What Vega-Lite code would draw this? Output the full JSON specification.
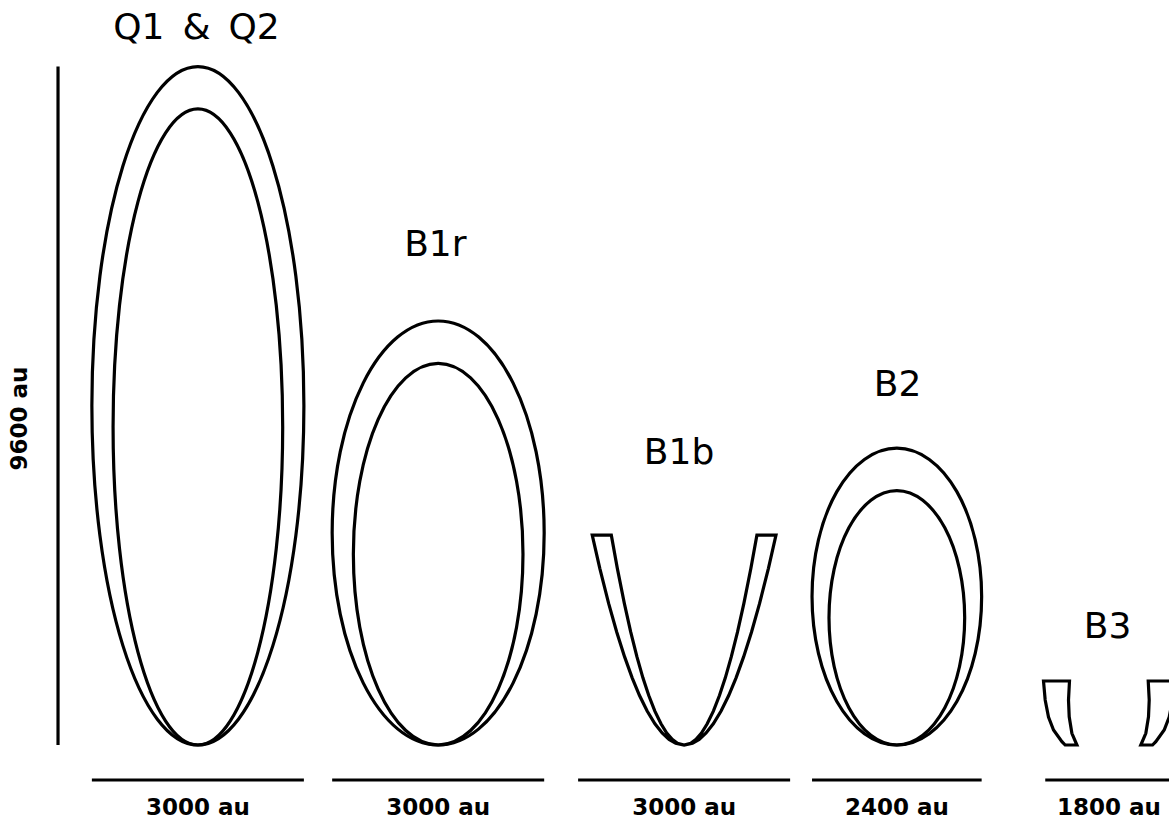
{
  "$schema": "https://vega.github.io/schema/vega-lite/v6.json",
  "width": 1169,
  "height": 825,
  "padding": 0,
  "autosize": {"type": "fit", "contains": "padding"},
  "background": "white",
  "config": {"view": {"stroke": null}},
  "datasets": {
    "ellipses": [
      {"shape": "Q outer", "i": 0, "x": 4300, "y": 4800},
      {"shape": "Q outer", "i": 1, "x": 4186, "y": 6637},
      {"shape": "Q outer", "i": 2, "x": 3861, "y": 8194},
      {"shape": "Q outer", "i": 3, "x": 3374, "y": 9235},
      {"shape": "Q outer", "i": 4, "x": 2800, "y": 9600},
      {"shape": "Q outer", "i": 5, "x": 2226, "y": 9235},
      {"shape": "Q outer", "i": 6, "x": 1739, "y": 8194},
      {"shape": "Q outer", "i": 7, "x": 1414, "y": 6637},
      {"shape": "Q outer", "i": 8, "x": 1300, "y": 4800},
      {"shape": "Q outer", "i": 9, "x": 1414, "y": 2963},
      {"shape": "Q outer", "i": 10, "x": 1739, "y": 1406},
      {"shape": "Q outer", "i": 11, "x": 2226, "y": 365},
      {"shape": "Q outer", "i": 12, "x": 2800, "y": 0},
      {"shape": "Q outer", "i": 13, "x": 3374, "y": 365},
      {"shape": "Q outer", "i": 14, "x": 3861, "y": 1406},
      {"shape": "Q outer", "i": 15, "x": 4186, "y": 2963},
      {"shape": "Q inner", "i": 0, "x": 4000, "y": 4500},
      {"shape": "Q inner", "i": 1, "x": 3909, "y": 6222},
      {"shape": "Q inner", "i": 2, "x": 3649, "y": 7682},
      {"shape": "Q inner", "i": 3, "x": 3259, "y": 8658},
      {"shape": "Q inner", "i": 4, "x": 2800, "y": 9000},
      {"shape": "Q inner", "i": 5, "x": 2341, "y": 8658},
      {"shape": "Q inner", "i": 6, "x": 1951, "y": 7682},
      {"shape": "Q inner", "i": 7, "x": 1691, "y": 6222},
      {"shape": "Q inner", "i": 8, "x": 1600, "y": 4500},
      {"shape": "Q inner", "i": 9, "x": 1691, "y": 2778},
      {"shape": "Q inner", "i": 10, "x": 1951, "y": 1318},
      {"shape": "Q inner", "i": 11, "x": 2341, "y": 342},
      {"shape": "Q inner", "i": 12, "x": 2800, "y": 0},
      {"shape": "Q inner", "i": 13, "x": 3259, "y": 342},
      {"shape": "Q inner", "i": 14, "x": 3649, "y": 1318},
      {"shape": "Q inner", "i": 15, "x": 3909, "y": 2778},
      {"shape": "B1r outer", "i": 0, "x": 7700, "y": 3000},
      {"shape": "B1r outer", "i": 1, "x": 7586, "y": 4148},
      {"shape": "B1r outer", "i": 2, "x": 7261, "y": 5121},
      {"shape": "B1r outer", "i": 3, "x": 6774, "y": 5772},
      {"shape": "B1r outer", "i": 4, "x": 6200, "y": 6000},
      {"shape": "B1r outer", "i": 5, "x": 5626, "y": 5772},
      {"shape": "B1r outer", "i": 6, "x": 5139, "y": 5121},
      {"shape": "B1r outer", "i": 7, "x": 4814, "y": 4148},
      {"shape": "B1r outer", "i": 8, "x": 4700, "y": 3000},
      {"shape": "B1r outer", "i": 9, "x": 4814, "y": 1852},
      {"shape": "B1r outer", "i": 10, "x": 5139, "y": 879},
      {"shape": "B1r outer", "i": 11, "x": 5626, "y": 228},
      {"shape": "B1r outer", "i": 12, "x": 6200, "y": 0},
      {"shape": "B1r outer", "i": 13, "x": 6774, "y": 228},
      {"shape": "B1r outer", "i": 14, "x": 7261, "y": 879},
      {"shape": "B1r outer", "i": 15, "x": 7586, "y": 1852},
      {"shape": "B1r inner", "i": 0, "x": 7400, "y": 2700},
      {"shape": "B1r inner", "i": 1, "x": 7309, "y": 3733},
      {"shape": "B1r inner", "i": 2, "x": 7049, "y": 4609},
      {"shape": "B1r inner", "i": 3, "x": 6659, "y": 5195},
      {"shape": "B1r inner", "i": 4, "x": 6200, "y": 5400},
      {"shape": "B1r inner", "i": 5, "x": 5741, "y": 5195},
      {"shape": "B1r inner", "i": 6, "x": 5351, "y": 4609},
      {"shape": "B1r inner", "i": 7, "x": 5091, "y": 3733},
      {"shape": "B1r inner", "i": 8, "x": 5000, "y": 2700},
      {"shape": "B1r inner", "i": 9, "x": 5091, "y": 1667},
      {"shape": "B1r inner", "i": 10, "x": 5351, "y": 791},
      {"shape": "B1r inner", "i": 11, "x": 5741, "y": 205},
      {"shape": "B1r inner", "i": 12, "x": 6200, "y": 0},
      {"shape": "B1r inner", "i": 13, "x": 6659, "y": 205},
      {"shape": "B1r inner", "i": 14, "x": 7049, "y": 791},
      {"shape": "B1r inner", "i": 15, "x": 7309, "y": 1667},
      {"shape": "B2 outer", "i": 0, "x": 13890, "y": 2100},
      {"shape": "B2 outer", "i": 1, "x": 13799, "y": 2904},
      {"shape": "B2 outer", "i": 2, "x": 13539, "y": 3585},
      {"shape": "B2 outer", "i": 3, "x": 13149, "y": 4040},
      {"shape": "B2 outer", "i": 4, "x": 12690, "y": 4200},
      {"shape": "B2 outer", "i": 5, "x": 12231, "y": 4040},
      {"shape": "B2 outer", "i": 6, "x": 11841, "y": 3585},
      {"shape": "B2 outer", "i": 7, "x": 11581, "y": 2904},
      {"shape": "B2 outer", "i": 8, "x": 11490, "y": 2100},
      {"shape": "B2 outer", "i": 9, "x": 11581, "y": 1296},
      {"shape": "B2 outer", "i": 10, "x": 11841, "y": 615},
      {"shape": "B2 outer", "i": 11, "x": 12231, "y": 160},
      {"shape": "B2 outer", "i": 12, "x": 12690, "y": 0},
      {"shape": "B2 outer", "i": 13, "x": 13149, "y": 160},
      {"shape": "B2 outer", "i": 14, "x": 13539, "y": 615},
      {"shape": "B2 outer", "i": 15, "x": 13799, "y": 1296},
      {"shape": "B2 inner", "i": 0, "x": 13650, "y": 1800},
      {"shape": "B2 inner", "i": 1, "x": 13577, "y": 2489},
      {"shape": "B2 inner", "i": 2, "x": 13369, "y": 3073},
      {"shape": "B2 inner", "i": 3, "x": 13057, "y": 3463},
      {"shape": "B2 inner", "i": 4, "x": 12690, "y": 3600},
      {"shape": "B2 inner", "i": 5, "x": 12323, "y": 3463},
      {"shape": "B2 inner", "i": 6, "x": 12011, "y": 3073},
      {"shape": "B2 inner", "i": 7, "x": 11803, "y": 2489},
      {"shape": "B2 inner", "i": 8, "x": 11730, "y": 1800},
      {"shape": "B2 inner", "i": 9, "x": 11803, "y": 1111},
      {"shape": "B2 inner", "i": 10, "x": 12011, "y": 527},
      {"shape": "B2 inner", "i": 11, "x": 12323, "y": 137},
      {"shape": "B2 inner", "i": 12, "x": 12690, "y": 0},
      {"shape": "B2 inner", "i": 13, "x": 13057, "y": 137},
      {"shape": "B2 inner", "i": 14, "x": 13369, "y": 527},
      {"shape": "B2 inner", "i": 15, "x": 13577, "y": 1111}
    ],
    "outlines": [
      {"shape": "B1b", "i": 0, "x": 8380, "y": 2970},
      {"shape": "B1b", "i": 1, "x": 8487, "y": 2500},
      {"shape": "B1b", "i": 2, "x": 8613, "y": 2000},
      {"shape": "B1b", "i": 3, "x": 8726, "y": 1600},
      {"shape": "B1b", "i": 4, "x": 8837, "y": 1250},
      {"shape": "B1b", "i": 5, "x": 8945, "y": 950},
      {"shape": "B1b", "i": 6, "x": 9049, "y": 700},
      {"shape": "B1b", "i": 7, "x": 9157, "y": 480},
      {"shape": "B1b", "i": 8, "x": 9267, "y": 300},
      {"shape": "B1b", "i": 9, "x": 9369, "y": 170},
      {"shape": "B1b", "i": 10, "x": 9467, "y": 80},
      {"shape": "B1b", "i": 11, "x": 9561, "y": 25},
      {"shape": "B1b", "i": 12, "x": 9680, "y": 0},
      {"shape": "B1b", "i": 13, "x": 9799, "y": 25},
      {"shape": "B1b", "i": 14, "x": 9893, "y": 80},
      {"shape": "B1b", "i": 15, "x": 9991, "y": 170},
      {"shape": "B1b", "i": 16, "x": 10093, "y": 300},
      {"shape": "B1b", "i": 17, "x": 10203, "y": 480},
      {"shape": "B1b", "i": 18, "x": 10311, "y": 700},
      {"shape": "B1b", "i": 19, "x": 10415, "y": 950},
      {"shape": "B1b", "i": 20, "x": 10523, "y": 1250},
      {"shape": "B1b", "i": 21, "x": 10634, "y": 1600},
      {"shape": "B1b", "i": 22, "x": 10747, "y": 2000},
      {"shape": "B1b", "i": 23, "x": 10873, "y": 2500},
      {"shape": "B1b", "i": 24, "x": 10980, "y": 2970},
      {"shape": "B1b", "i": 25, "x": 10710, "y": 2970},
      {"shape": "B1b", "i": 26, "x": 10625, "y": 2500},
      {"shape": "B1b", "i": 27, "x": 10525, "y": 2000},
      {"shape": "B1b", "i": 28, "x": 10436, "y": 1600},
      {"shape": "B1b", "i": 29, "x": 10348, "y": 1250},
      {"shape": "B1b", "i": 30, "x": 10263, "y": 950},
      {"shape": "B1b", "i": 31, "x": 10180, "y": 700},
      {"shape": "B1b", "i": 32, "x": 10094, "y": 480},
      {"shape": "B1b", "i": 33, "x": 10007, "y": 300},
      {"shape": "B1b", "i": 34, "x": 9926, "y": 170},
      {"shape": "B1b", "i": 35, "x": 9849, "y": 80},
      {"shape": "B1b", "i": 36, "x": 9774, "y": 25},
      {"shape": "B1b", "i": 37, "x": 9680, "y": 0},
      {"shape": "B1b", "i": 38, "x": 9586, "y": 25},
      {"shape": "B1b", "i": 39, "x": 9511, "y": 80},
      {"shape": "B1b", "i": 40, "x": 9434, "y": 170},
      {"shape": "B1b", "i": 41, "x": 9353, "y": 300},
      {"shape": "B1b", "i": 42, "x": 9266, "y": 480},
      {"shape": "B1b", "i": 43, "x": 9180, "y": 700},
      {"shape": "B1b", "i": 44, "x": 9097, "y": 950},
      {"shape": "B1b", "i": 45, "x": 9012, "y": 1250},
      {"shape": "B1b", "i": 46, "x": 8924, "y": 1600},
      {"shape": "B1b", "i": 47, "x": 8835, "y": 2000},
      {"shape": "B1b", "i": 48, "x": 8735, "y": 2500},
      {"shape": "B1b", "i": 49, "x": 8650, "y": 2970},
      {"shape": "B3 left", "i": 0, "x": 14765, "y": 906},
      {"shape": "B3 left", "i": 1, "x": 14789, "y": 637},
      {"shape": "B3 left", "i": 2, "x": 14836, "y": 396},
      {"shape": "B3 left", "i": 3, "x": 14907, "y": 212},
      {"shape": "B3 left", "i": 4, "x": 15026, "y": 47},
      {"shape": "B3 left", "i": 5, "x": 15072, "y": 0},
      {"shape": "B3 left", "i": 6, "x": 15238, "y": 0},
      {"shape": "B3 left", "i": 7, "x": 15167, "y": 166},
      {"shape": "B3 left", "i": 8, "x": 15129, "y": 400},
      {"shape": "B3 left", "i": 9, "x": 15119, "y": 637},
      {"shape": "B3 left", "i": 10, "x": 15133, "y": 906},
      {"shape": "B3 right", "i": 0, "x": 16615, "y": 906},
      {"shape": "B3 right", "i": 1, "x": 16591, "y": 637},
      {"shape": "B3 right", "i": 2, "x": 16544, "y": 396},
      {"shape": "B3 right", "i": 3, "x": 16473, "y": 212},
      {"shape": "B3 right", "i": 4, "x": 16354, "y": 47},
      {"shape": "B3 right", "i": 5, "x": 16308, "y": 0},
      {"shape": "B3 right", "i": 6, "x": 16142, "y": 0},
      {"shape": "B3 right", "i": 7, "x": 16213, "y": 166},
      {"shape": "B3 right", "i": 8, "x": 16251, "y": 400},
      {"shape": "B3 right", "i": 9, "x": 16261, "y": 637},
      {"shape": "B3 right", "i": 10, "x": 16247, "y": 906}
    ],
    "bars": [
      {"x": 1300, "x2": 4300, "y": -495, "y2": -495},
      {"x": 4700, "x2": 7700, "y": -495, "y2": -495},
      {"x": 8180, "x2": 11180, "y": -495, "y2": -495},
      {"x": 11490, "x2": 13890, "y": -495, "y2": -495},
      {"x": 14790, "x2": 16590, "y": -495, "y2": -495},
      {"x": 821, "x2": 821, "y": 0, "y2": 9600}
    ],
    "titles": [
      {"label": "Q1\u2002&\u2002Q2", "x": 2780, "y": 10146},
      {"label": "B1r", "x": 6160, "y": 7075},
      {"label": "B1b", "x": 9608, "y": 4132},
      {"label": "B2", "x": 12700, "y": 5094},
      {"label": "B3", "x": 15671, "y": 1663}
    ],
    "barlabels": [
      {"label": "3000 au", "x": 2800, "y": -891},
      {"label": "3000 au", "x": 6200, "y": -891},
      {"label": "3000 au", "x": 9680, "y": -891},
      {"label": "2400 au", "x": 12690, "y": -891},
      {"label": "1800 au", "x": 15690, "y": -891}
    ],
    "sidelabel": [
      {"label": "9600 au", "x": 290, "y": 4620}
    ]
  },
  "layer": [
    {
      "data": {"name": "ellipses"},
      "mark": {"type": "line", "interpolate": "cardinal-closed", "color": "black", "strokeWidth": 3.2},
      "encoding": {
        "x": {"field": "x", "type": "quantitative", "axis": null, "scale": {"domain": [0, 16541], "nice": false, "zero": false}},
        "y": {"field": "y", "type": "quantitative", "axis": null, "scale": {"domain": [-1132, 10542], "nice": false, "zero": false}},
        "detail": {"field": "shape", "type": "nominal"},
        "order": {"field": "i", "type": "quantitative"}
      }
    },
    {
      "data": {"name": "outlines"},
      "mark": {"type": "line", "interpolate": "linear-closed", "color": "black", "strokeWidth": 3.2, "strokeJoin": "miter", "clip": true},
      "encoding": {
        "x": {"field": "x", "type": "quantitative"},
        "y": {"field": "y", "type": "quantitative"},
        "detail": {"field": "shape", "type": "nominal"},
        "order": {"field": "i", "type": "quantitative"}
      }
    },
    {
      "data": {"name": "bars"},
      "mark": {"type": "rule", "color": "black", "strokeWidth": 3.2, "clip": true},
      "encoding": {
        "x": {"field": "x", "type": "quantitative"},
        "x2": {"field": "x2"},
        "y": {"field": "y", "type": "quantitative"},
        "y2": {"field": "y2"}
      }
    },
    {
      "data": {"name": "titles"},
      "mark": {"type": "text", "font": "DejaVu Sans", "fontSize": 36, "color": "black", "align": "center", "baseline": "middle"},
      "encoding": {
        "x": {"field": "x", "type": "quantitative"},
        "y": {"field": "y", "type": "quantitative"},
        "text": {"field": "label", "type": "nominal"}
      }
    },
    {
      "data": {"name": "barlabels"},
      "mark": {"type": "text", "font": "DejaVu Sans", "fontWeight": "bold", "fontSize": 23, "color": "black", "align": "center", "baseline": "middle"},
      "encoding": {
        "x": {"field": "x", "type": "quantitative"},
        "y": {"field": "y", "type": "quantitative"},
        "text": {"field": "label", "type": "nominal"}
      }
    },
    {
      "data": {"name": "sidelabel"},
      "mark": {"type": "text", "font": "DejaVu Sans", "fontWeight": "bold", "fontSize": 23, "color": "black", "align": "center", "baseline": "middle", "angle": 270},
      "encoding": {
        "x": {"field": "x", "type": "quantitative"},
        "y": {"field": "y", "type": "quantitative"},
        "text": {"field": "label", "type": "nominal"}
      }
    }
  ]
}
